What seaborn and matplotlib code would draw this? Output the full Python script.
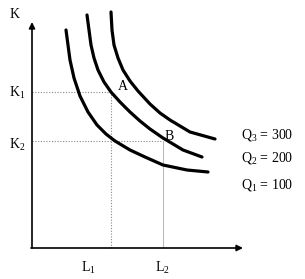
import matplotlib
matplotlib.use("Agg")
import matplotlib.pyplot as plt
import seaborn as sns
import pandas as pd

sns.set_theme(style="white")
plt.rcParams['font.family'] = ['Liberation Serif', 'DejaVu Serif']
plt.rcParams['mathtext.default'] = 'regular'

# Isoquant points (L, K)
q1_L = [34, 36, 38, 42, 48, 56, 65, 74, 83, 98, 113, 131, 155, 176]
q1_K = [218, 203, 188, 170, 152, 136, 123, 114, 107, 98, 91, 83, 78, 76]
q2_L = [55, 57, 59, 62, 66, 72, 79, 88, 98, 108, 118, 131, 151, 170]
q2_K = [233, 218, 203, 190, 178, 166, 156, 146, 136, 127, 119, 110, 98, 91]
q3_L = [79, 80, 82, 86, 91, 98, 106, 118, 128, 138, 158, 183]
q3_K = [236, 218, 203, 190, 178, 167, 157, 144, 135, 128, 116, 109]

q_labels = ["Q$_1$ = 100", "Q$_2$ = 200", "Q$_3$ = 300"]
q_label_K = [63, 90, 113]

# Points A and B
point_names = ["A", "B"]
point_L = [79, 131]
point_K = [156, 107]
L_ticks = ["L$_1$", "L$_2$"]
K_ticks = ["K$_1$", "K$_2$"]

fig = plt.figure(figsize=(3.05, 2.79), dpi=100)
ax = fig.add_axes([0, 0, 1, 1])
ax.set_xlim(-32, 273)
ax.set_ylim(-31, 248)
ax.axis('off')

# guide lines
for i, (l, k) in enumerate(zip(point_L, point_K)):
    ax.plot([0, l], [k, k], color='#888888', lw=0.8, ls=(0, (1, 1.5)))
    if i == 0:
        ax.plot([l, l], [0, k], color='#888888', lw=0.8, ls=(0, (1, 1.5)))
    else:
        ax.plot([l, l], [0, k], color='#bbbbbb', lw=0.8)

for L, K in [(q1_L, q1_K), (q2_L, q2_K), (q3_L, q3_K)]:
    df = pd.DataFrame({"L": L, "K": K})
    sns.lineplot(data=df, x="L", y="K", sort=False, estimator=None,
                 color='black', lw=2.3, ax=ax)

# axes with arrows
ax.annotate("", xy=(0, 226), xytext=(0, 0),
            arrowprops=dict(arrowstyle='-|>', color='black', lw=1.2,
                            mutation_scale=9, shrinkA=0, shrinkB=0))
ax.annotate("", xy=(211, 0), xytext=(-1, 0),
            arrowprops=dict(arrowstyle='-|>', color='black', lw=1.2,
                            mutation_scale=9, shrinkA=0, shrinkB=0))

fs = 10
ax.text(-17, 234, "K", fontsize=fs, ha='center', va='center', color='black')
for lab, k in zip(K_ticks, [155, 103]):
    ax.text(-7, k, lab, fontsize=fs, ha='right', va='center', color='black')
for lab, l in zip(L_ticks, point_L):
    ax.text(l - 23 + (l == point_L[1]) * 22, -20, lab, fontsize=fs,
            ha='center', va='center', color='black')
ax.text(point_L[0] + 12, point_K[0] + 5, point_names[0], fontsize=fs,
        ha='center', va='center', color='black')
ax.text(point_L[1] + 6, point_K[1] + 5, point_names[1], fontsize=fs,
        ha='center', va='center', color='black')
for lab, k in zip(q_labels, q_label_K):
    ax.text(235, k, lab, fontsize=fs, ha='center', va='center', color='black')

fig.savefig("out.png", dpi=100)
